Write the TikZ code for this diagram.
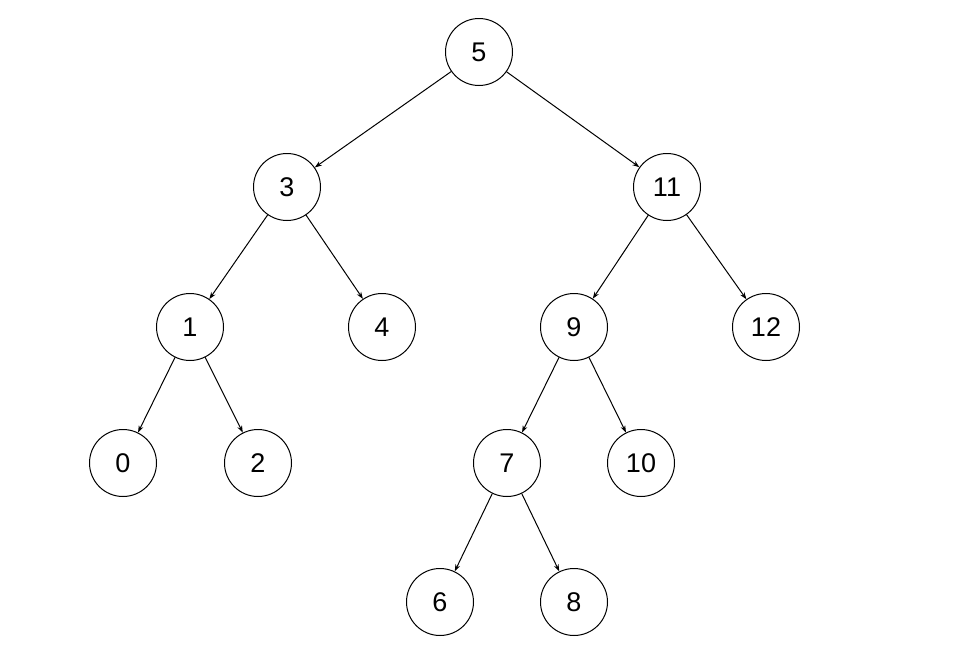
\documentclass[tikz,border=0pt]{standalone}
\usepackage{fontspec}
\setmainfont{Liberation Sans}
\usetikzlibrary{arrows.meta}
\begin{document}
\begin{tikzpicture}[x=1pt,y=-1pt,line join=round,line cap=round,>={Stealth[length=7pt,width=5pt]},
	vertex/.style={draw,circle,minimum size=67pt,inner sep=0pt,line width=1pt,font=\fontsize{27}{27}\selectfont},
	edge/.style={->,line width=1pt}]
	\useasboundingbox (0,0) rectangle (954,651);
	\node[vertex] (n5) at (479,52) {5};
	\node[vertex] (n3) at (287,187) {3};
	\node[vertex] (n11) at (667,187) {11};
	\node[vertex] (n1) at (190,327) {1};
	\node[vertex] (n4) at (382,327) {4};
	\node[vertex] (n9) at (574,327) {9};
	\node[vertex] (n12) at (766,327) {12};
	\node[vertex] (n0) at (123,463) {0};
	\node[vertex] (n2) at (258,463) {2};
	\node[vertex] (n7) at (507,463) {7};
	\node[vertex] (n10) at (641,463) {10};
	\node[vertex] (n6) at (440,602) {6};
	\node[vertex] (n8) at (574,602) {8};
	\draw[edge] (n5) -- (n3);
	\draw[edge] (n5) -- (n11);
	\draw[edge] (n3) -- (n1);
	\draw[edge] (n3) -- (n4);
	\draw[edge] (n11) -- (n9);
	\draw[edge] (n11) -- (n12);
	\draw[edge] (n1) -- (n0);
	\draw[edge] (n1) -- (n2);
	\draw[edge] (n9) -- (n7);
	\draw[edge] (n9) -- (n10);
	\draw[edge] (n7) -- (n6);
	\draw[edge] (n7) -- (n8);
\end{tikzpicture}
\end{document}
